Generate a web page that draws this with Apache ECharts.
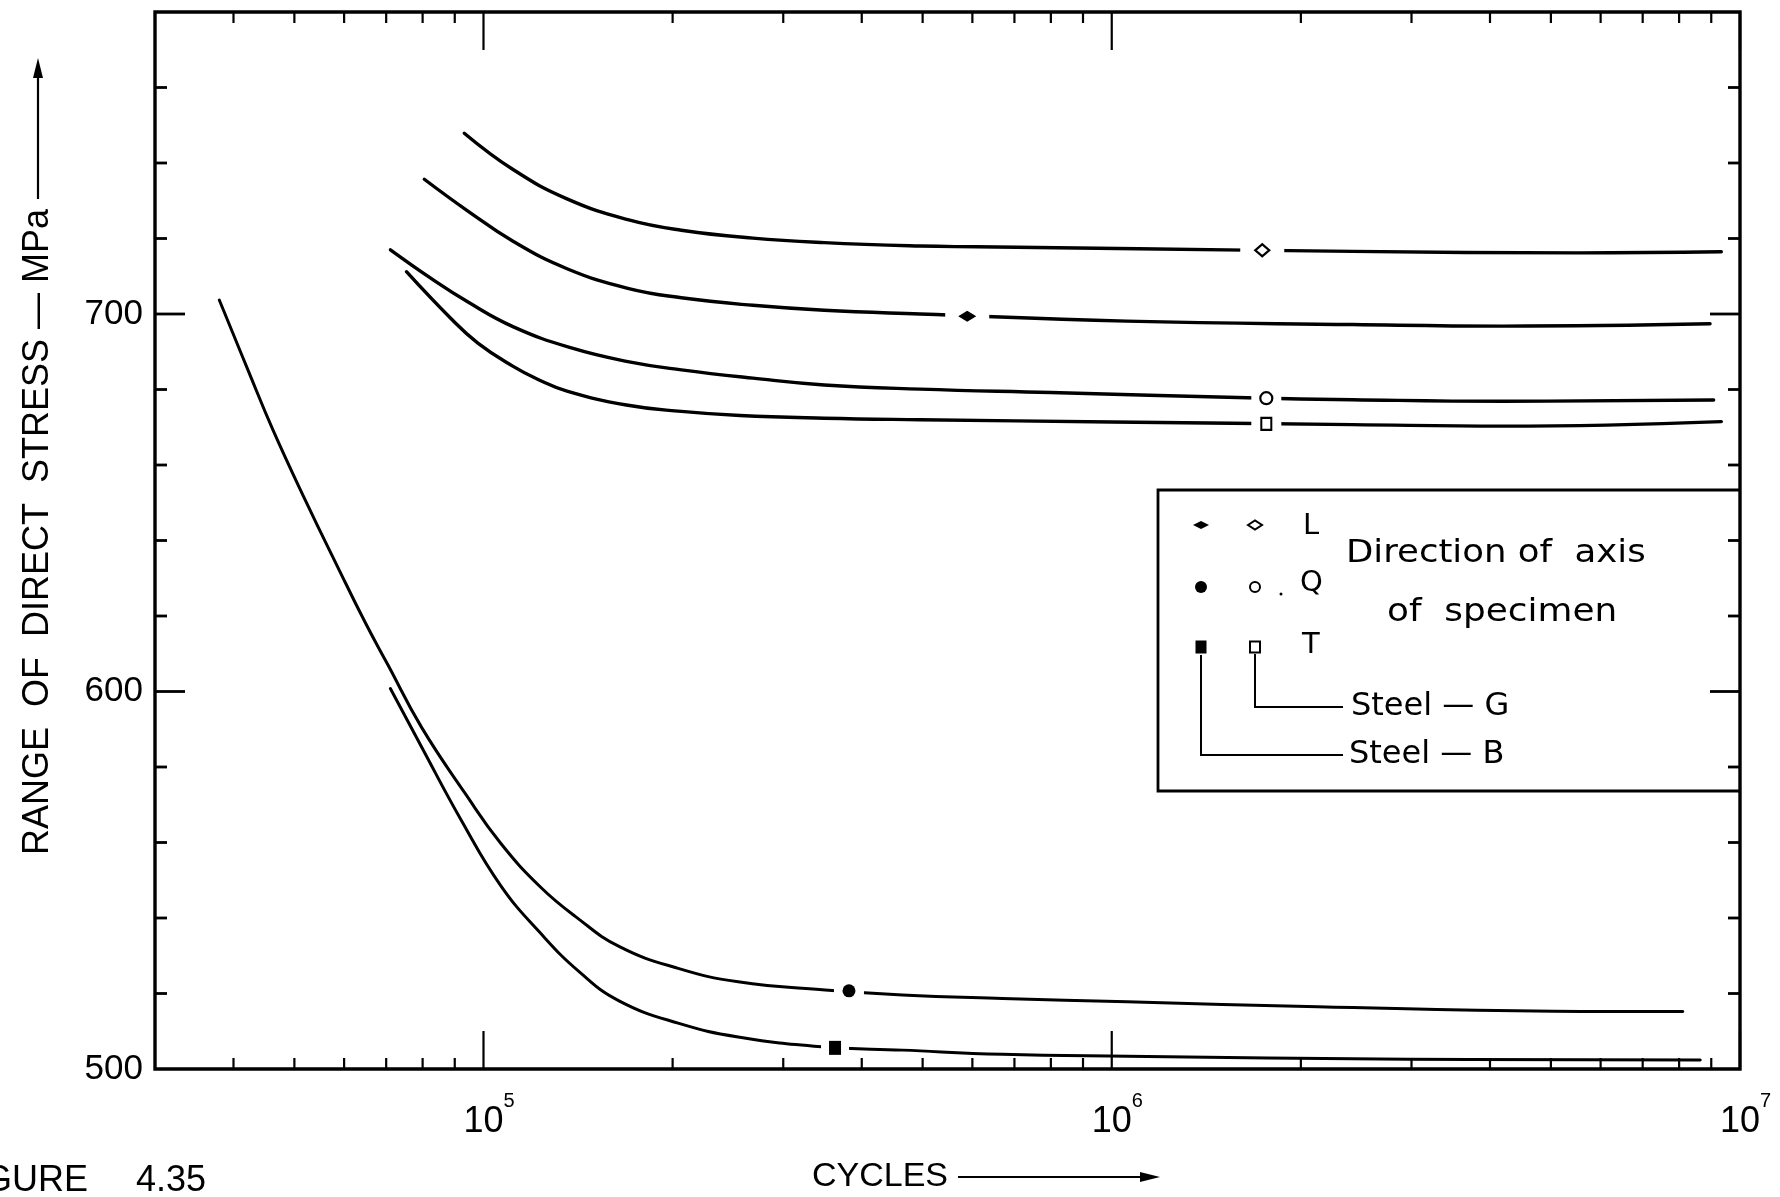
<!DOCTYPE html>
<html>
<head>
<meta charset="utf-8">
<script src="https://cdn.jsdelivr.net/npm/echarts@6/dist/echarts.min.js"></script>
<style>
  html, body { margin: 0; padding: 0; background: #fff; }
  #chart { width: 1780px; height: 1197px; }
</style>
</head>
<body>
<div id="chart"></div>
<script>
// Fatigue (S-N) curves: range of direct stress against number of cycles

// ---- axes ----
const cyclesMin = 30000;
const cyclesMax = 1e7;
const stressMin = 500;
const stressMax = 780;
const stressStep = 20;
const stressLabels = [500, 600, 700];
const stressMajorTicks = [600, 700];
const cycleDecades = [1e5, 1e6, 1e7];
const cycleMinorTicks = [4e4, 5e4, 6e4, 7e4, 8e4, 9e4,
  2e5, 3e5, 4e5, 5e5, 6e5, 7e5, 8e5, 9e5,
  2e6, 3e6, 4e6, 5e6, 6e6, 7e6, 8e6, 9e6];

// ---- Steel G (open symbols) : [cycles, MPa] ----
const steelG_L = [[93200, 747.9], [111600, 738.2], [135800, 730.5], [169700, 725.0],
  [206500, 722.2], [268400, 720.1], [348600, 718.9], [495100, 718.0], [608500, 717.8],
  [1100000, 717.3], [2417000, 716.6], [5530000, 716.2], [9338000, 716.5]];
const steelG_L_point = [1736000, 716.9];

const steelG_Q = [[71100, 717.0], [82400, 709.5], [94200, 703.3], [111600, 696.6], [138000, 691.0],
  [169700, 687.4], [206500, 685.2], [268400, 683.0], [348600, 681.2], [495100, 680.1],
  [800000, 679.2], [1644000, 677.8], [2417000, 677.3], [4198000, 676.9], [9080000, 677.2]];
const steelG_Q_point = [1762000, 677.7];

const steelG_T = [[75400, 711.2], [88500, 699.0], [97950, 692.3], [111300, 686.2], [121700, 682.8],
  [135800, 679.6], [168800, 675.9], [206500, 674.2], [256000, 673.1], [348600, 672.4],
  [495100, 672.0], [1000000, 671.4], [2417000, 670.7], [4198000, 670.3], [9338000, 671.5]];
const steelG_T_point = [1762000, 670.9];

// ---- Steel B (filled symbols) ----
const steelB_L = [[80500, 735.7], [94200, 727.4], [111600, 719.2], [135800, 712.0], [169700, 706.8],
  [206500, 704.3], [268400, 702.3], [348600, 701.0], [495100, 700.0],
  [1056000, 698.1], [2417000, 697.2], [4198000, 696.8], [8960000, 697.4]];
const steelB_L_point = [588800, 699.4];

const steelB_Q = [[37970, 703.7], [42170, 685.2], [46220, 669.3], [51970, 650.9], [58480, 633.3],
  [64950, 618.0], [70470, 607.0], [79700, 590.5], [93500, 573.0], [106500, 559.8],
  [123200, 548.2], [140300, 540.3], [164600, 532.4], [204700, 526.6], [254300, 523.1],
  [349800, 520.9], [464400, 519.6], [669900, 518.7], [1058000, 517.8],
  [2127000, 516.5], [5054000, 515.3], [8110000, 515.2]];
const steelB_Q_point = [381700, 520.7];

const steelB_T = [[71080, 600.8], [79700, 585.3], [92170, 565.9], [106500, 548.6], [123200, 536.0],
  [142400, 525.6], [164600, 518.0], [204700, 512.1], [254300, 508.5], [345000, 505.9],
  [464400, 505.0], [669900, 503.9], [1058000, 503.4], [2961000, 502.6], [8644000, 502.4]];
const steelB_T_point = [362700, 505.6];

// ---- styling ----
const FONT = "'Liberation Sans', Arial, sans-serif";
const TFONT = "'DejaVu Sans', 'Liberation Sans', sans-serif";
const INK = '#000';

const curves = [
  { data: steelG_L, point: steelG_L_point, symbol: 'diamond', size: [14, 12], filled: false, gap: 44, width: 3.4 },
  { data: steelB_L, point: steelB_L_point, symbol: 'diamond', size: [18, 11], filled: true, gap: 44, width: 3.4 },
  { data: steelG_Q, point: steelG_Q_point, symbol: 'circle', size: 12, filled: false, gap: 30, width: 3.4 },
  { data: steelG_T, point: steelG_T_point, symbol: 'rect', size: [10, 12], filled: false, gap: 30, width: 3.4 },
  { data: steelB_Q, point: steelB_Q_point, symbol: 'circle', size: 13, filled: true, gap: 30, width: 3 },
  { data: steelB_T, point: steelB_T_point, symbol: 'rect', size: [12, 14], filled: true, gap: 28, width: 3 }
];

const series = [];
curves.forEach(c => {
  series.push({
    type: 'line', data: c.data, showSymbol: false, smooth: 0.45,
    lineStyle: { color: INK, width: c.width, cap: 'round', join: 'round' }, z: 2, silent: true
  });
  // small break in the line around the symbol
  series.push({
    type: 'scatter', data: [c.point], symbol: 'rect', symbolSize: [c.gap, 12],
    itemStyle: { color: '#fff', opacity: 1 }, z: 3, silent: true
  });
  series.push({
    type: 'scatter', data: [c.point], symbol: c.symbol, symbolSize: c.size,
    itemStyle: c.filled ? { color: INK, opacity: 1 } : { color: '#fff', borderColor: INK, borderWidth: 2.2, opacity: 1 },
    z: 4, silent: true
  });
});

// tick marks on all four sides of the frame
function xTickRenderer(len) {
  return function (params, api) {
    const cs = params.coordSys;
    const x = api.coord([api.value(0), stressMin])[0];
    const st = { stroke: INK, lineWidth: 2.2 };
    return {
      type: 'group', children: [
        { type: 'line', shape: { x1: x, y1: cs.y, x2: x, y2: cs.y + len }, style: st },
        { type: 'line', shape: { x1: x, y1: cs.y + cs.height, x2: x, y2: cs.y + cs.height - len }, style: st }
      ]
    };
  };
}
function yTickRenderer(params, api) {
  const cs = params.coordSys;
  const v = api.value(1);
  const y = api.coord([cyclesMin, v])[1];
  const len = stressMajorTicks.indexOf(v) >= 0 ? 30 : 12;
  const st = { stroke: INK, lineWidth: 2.8 };
  return {
    type: 'group', children: [
      { type: 'line', shape: { x1: cs.x, y1: y, x2: cs.x + len, y2: y }, style: st },
      { type: 'line', shape: { x1: cs.x + cs.width, y1: y, x2: cs.x + cs.width - len, y2: y }, style: st }
    ]
  };
}
const stressTicks = [];
for (let v = stressMin + stressStep; v < stressMax; v += stressStep) stressTicks.push([cyclesMin, v]);

series.push({ type: 'custom', renderItem: xTickRenderer(11), data: cycleMinorTicks.map(v => [v, stressMin]), z: 5, silent: true });
series.push({ type: 'custom', renderItem: xTickRenderer(38), data: cycleDecades.map(v => [v, stressMin]), z: 5, silent: true });
series.push({ type: 'custom', renderItem: yTickRenderer, data: stressTicks, z: 5, silent: true });

// ---- legend and titles ----
function label(text, x, y, size, opts) {
  opts = opts || {};
  const align = opts.align || 'left';
  const va = opts.va || 'middle';
  return {
    type: 'text', x: x, y: y, rotation: opts.rotation || 0,
    scaleX: opts.sx || 1, scaleY: 1,
    style: {
      text: text, font: size + 'px ' + (opts.font || TFONT), fill: INK,
      align: align, verticalAlign: va, textAlign: align, textVerticalAlign: va
    }
  };
}
const legendX1 = 1201, legendX2 = 1255;
const rowL = 525, rowQ = 587, rowT = 647;
const graphic = [
  // key box, open on the right where it meets the frame
  { type: 'polyline', shape: { points: [[1740, 490], [1158, 490], [1158, 791], [1740, 791]] }, style: { stroke: INK, lineWidth: 2.8, fill: null } },
  { type: 'polygon', shape: { points: [[legendX1 - 8, rowL], [legendX1, rowL - 4], [legendX1 + 8, rowL], [legendX1, rowL + 4]] }, style: { fill: INK } },
  { type: 'polygon', shape: { points: [[legendX2 - 7, rowL], [legendX2, rowL - 4.5], [legendX2 + 7, rowL], [legendX2, rowL + 4.5]] }, style: { fill: '#fff', stroke: INK, lineWidth: 2 } },
  { type: 'circle', shape: { cx: legendX1, cy: rowQ, r: 6 }, style: { fill: INK } },
  { type: 'circle', shape: { cx: legendX2, cy: rowQ, r: 5 }, style: { fill: '#fff', stroke: INK, lineWidth: 2 } },
  { type: 'circle', shape: { cx: 1281, cy: 594, r: 1.5 }, style: { fill: INK } },
  { type: 'rect', shape: { x: legendX1 - 5.5, y: rowT - 6.5, width: 11, height: 13 }, style: { fill: INK } },
  { type: 'rect', shape: { x: legendX2 - 5, y: rowT - 5.5, width: 10, height: 11 }, style: { fill: '#fff', stroke: INK, lineWidth: 2 } },
  { type: 'polyline', shape: { points: [[legendX2, rowT + 7], [legendX2, 707], [1343, 707]] }, style: { stroke: INK, lineWidth: 2, fill: null } },
  { type: 'polyline', shape: { points: [[legendX1, rowT + 8], [legendX1, 755], [1343, 755]] }, style: { stroke: INK, lineWidth: 2, fill: null } },
  label('L', 1303, 541, 29, { va: 'bottom' }),
  label('Q', 1300, 598, 29, { va: 'bottom' }),
  label('T', 1302, 660, 29, { va: 'bottom' }),
  label('Direction of  axis', 1346, 554, 32, { sx: 1.11 }),
  label('of  specimen', 1387, 613, 32, { sx: 1.12 }),
  label('Steel — G', 1351, 707, 32),
  label('Steel — B', 1349, 755, 32),

  // y-axis title with arrow
  label('RANGE  OF  DIRECT  STRESS — MPa', 38, 532, 36, { align: 'center', rotation: Math.PI / 2, font: FONT }),
  { type: 'line', shape: { x1: 38, y1: 199, x2: 38, y2: 72 }, style: { stroke: INK, lineWidth: 2.2 } },
  { type: 'polygon', shape: { points: [[38, 58], [33, 78], [43, 78]] }, style: { fill: INK } },

  // x-axis title with arrow
  label('CYCLES', 812, 1177, 34, { font: FONT }),
  { type: 'line', shape: { x1: 958, y1: 1177, x2: 1146, y2: 1177 }, style: { stroke: INK, lineWidth: 2 } },
  { type: 'polygon', shape: { points: [[1160, 1177], [1140, 1172], [1140, 1182]] }, style: { fill: INK } },

  // figure number
  label('FIGURE', 88, 1181, 36, { align: 'right', font: FONT }),
  label('4.35', 136, 1181, 36, { font: FONT })
];

const chart = echarts.init(document.getElementById('chart'), null, { renderer: 'canvas' });
chart.setOption({
  animation: false,
  backgroundColor: '#fff',
  grid: { left: 155, top: 12, width: 1585, height: 1057, show: true, borderColor: INK, borderWidth: 3.4, backgroundColor: 'transparent' },
  xAxis: {
    type: 'log', logBase: 10, min: cyclesMin, max: cyclesMax,
    axisLine: { show: false }, axisTick: { show: false }, splitLine: { show: false }, minorTick: { show: false },
    axisLabel: {
      margin: 22, color: INK,
      formatter: function (v) {
        const lg = Math.log10(v);
        const e = Math.round(lg);
        if (Math.abs(lg - e) > 1e-6) return '';
        return '{h|' + e + '}{b|10}{s|' + e + '}';
      },
      rich: {
        b: { fontSize: 36, lineHeight: 62, fontFamily: FONT, color: INK },
        s: { fontSize: 20, lineHeight: 20, verticalAlign: 'top', fontFamily: FONT, color: INK },
        h: { fontSize: 20, lineHeight: 20, verticalAlign: 'top', fontFamily: FONT, color: 'rgba(0,0,0,0)' }
      }
    }
  },
  yAxis: {
    type: 'value', min: stressMin, max: stressMax, interval: stressStep,
    axisLine: { show: false }, axisTick: { show: false }, splitLine: { show: false },
    axisLabel: {
      margin: 12, fontSize: 35, fontFamily: FONT, color: INK,
      formatter: v => (stressLabels.indexOf(v) >= 0 ? String(v) : '')
    }
  },
  graphic: graphic,
  series: series
});
</script>
</body>
</html>
